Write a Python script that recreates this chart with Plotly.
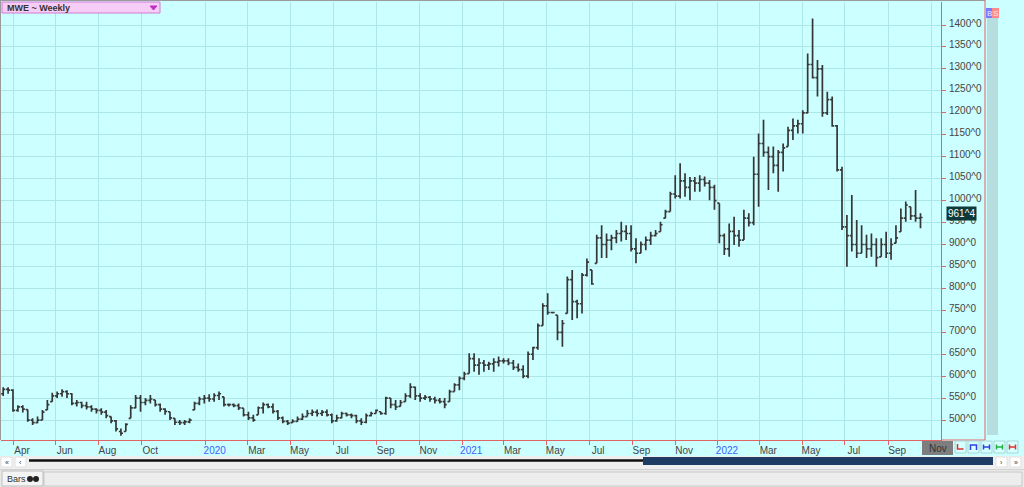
import plotly.graph_objects as go
import pandas as pd

# ---------------- data (weekly bars, MWE) ----------------
dates = pd.date_range("2019-03-18", periods=188, freq="7D")

opens = [
    560, 570, 568, 522, 530, 524, 500, 494, 500, 523,
    542, 555, 560, 565, 560, 538, 540, 533, 530, 525,
    522, 518, 508, 498, 474, 474, 504, 528, 550, 540,
    545, 546, 535, 525, 519, 504, 495, 494, 496, 523,
    538, 548, 550, 548, 556, 553, 535, 535, 533, 527,
    512, 505, 512, 528, 535, 530, 520, 505, 497, 494,
    497, 502, 508, 515, 518, 515, 518, 512, 498, 505,
    515, 512, 510, 498, 495, 510, 515, 519, 515, 550,
    535, 531, 542, 555, 575, 555, 550, 552, 548, 545,
    542, 542, 565, 580, 595, 606, 640, 625, 630, 625,
    628, 632, 635, 635, 630, 620, 615, 600, 650, 665,
    715, 760, 745, 739, 700, 743, 820, 770, 765, 830,
    842, 857, 915, 900, 910, 915, 925, 930, 925, 890,
    880, 900, 910, 920, 929, 960, 975, 1015, 1010, 1045,
    1030, 1045, 1040, 1048, 1040, 1030, 994, 920, 890, 930,
    920, 910, 960, 950, 1060, 1130, 1110, 1100, 1080, 1110,
    1123, 1160, 1170, 1175, 1200, 1310, 1280, 1300, 1200, 1230,
    1170, 1070, 940, 920, 900, 880, 900, 890, 900, 872,
    900, 880, 903, 929, 960, 986, 965, 960,
]
highs = [
    575, 575, 570, 534, 534, 524, 504, 508, 523, 546,
    562, 565, 570, 568, 561, 546, 542, 542, 534, 527,
    527, 523, 508, 500, 481, 493, 534, 557, 557, 550,
    557, 546, 538, 527, 519, 504, 500, 500, 504, 542,
    553, 557, 559, 561, 565, 553, 538, 538, 538, 527,
    519, 512, 531, 540, 538, 538, 523, 508, 500, 502,
    508, 515, 523, 524, 524, 523, 524, 515, 512, 519,
    517, 515, 512, 504, 515, 519, 524, 519, 553, 550,
    546, 546, 561, 584, 576, 561, 557, 555, 553, 550,
    550, 569, 584, 599, 610, 652, 652, 641, 637, 633,
    641, 645, 641, 641, 637, 629, 625, 656, 667, 720,
    766, 789, 747, 739, 728, 827, 842, 774, 835, 868,
    842, 922, 944, 925, 922, 933, 952, 944, 944, 914,
    907, 918, 929, 933, 952, 979, 1020, 1058, 1085, 1062,
    1054, 1054, 1058, 1055, 1047, 1036, 994, 925, 948, 963,
    933, 979, 971, 1100, 1153, 1184, 1123, 1123, 1115, 1130,
    1168, 1187, 1184, 1206, 1335, 1415, 1320, 1309, 1248, 1237,
    1172, 1077, 967, 1013, 956, 944, 922, 925, 914, 914,
    929, 914, 944, 982, 998, 986, 1024, 971,
]
lows = [
    555, 560, 519, 519, 517, 496, 489, 493, 500, 523,
    542, 550, 553, 550, 534, 531, 527, 524, 519, 515,
    512, 504, 493, 474, 464, 474, 504, 527, 519, 534,
    538, 531, 519, 512, 500, 489, 489, 489, 493, 523,
    534, 538, 542, 542, 546, 531, 531, 529, 523, 508,
    500, 496, 512, 515, 527, 515, 500, 493, 489, 494,
    496, 500, 508, 509, 508, 509, 508, 493, 496, 504,
    508, 504, 493, 489, 493, 508, 515, 512, 512, 527,
    523, 531, 542, 550, 546, 542, 546, 542, 538, 538,
    527, 542, 565, 568, 591, 606, 610, 603, 610, 614,
    610, 622, 629, 625, 614, 610, 595, 595, 637, 660,
    715, 740, 743, 682, 667, 743, 728, 732, 743, 827,
    808, 857, 869, 869, 887, 903, 907, 910, 884, 857,
    880, 887, 899, 918, 929, 960, 975, 1005, 1005, 1009,
    1001, 1020, 1020, 1032, 1001, 979, 903, 876, 872, 899,
    895, 910, 941, 944, 986, 1100, 1024, 1062, 1020, 1066,
    1123, 1138, 1153, 1153, 1199, 1278, 1237, 1191, 1195, 1168,
    1066, 933, 849, 884, 869, 880, 869, 872, 849, 872,
    869, 865, 903, 929, 952, 956, 952, 937,
]
closes = [
    570, 568, 522, 530, 525, 500, 494, 500, 518, 535,
    555, 560, 565, 560, 538, 540, 533, 530, 525, 522,
    518, 510, 498, 480, 470, 490, 528, 550, 540, 545,
    548, 535, 525, 520, 505, 495, 494, 496, 500, 538,
    548, 550, 548, 556, 560, 535, 535, 533, 528, 512,
    505, 500, 528, 535, 530, 520, 505, 497, 493, 497,
    502, 508, 515, 518, 515, 518, 512, 498, 505, 515,
    512, 510, 498, 495, 510, 515, 522, 515, 550, 535,
    530, 540, 555, 575, 555, 550, 552, 548, 545, 542,
    535, 565, 580, 595, 605, 640, 625, 630, 625, 628,
    632, 635, 635, 630, 620, 615, 600, 650, 665, 715,
    760, 745, 745, 700, 720, 820, 770, 765, 830, 860,
    810, 915, 900, 910, 915, 925, 930, 925, 890, 880,
    900, 910, 920, 925, 945, 975, 1015, 1010, 1045, 1030,
    1045, 1040, 1048, 1040, 1030, 1000, 920, 890, 930, 920,
    910, 960, 950, 1060, 1130, 1110, 1100, 1080, 1110, 1120,
    1160, 1170, 1175, 1200, 1310, 1280, 1300, 1200, 1230, 1170,
    1070, 940, 920, 900, 880, 900, 890, 900, 870, 900,
    880, 900, 915, 960, 990, 965, 960, 961.5,
]

month_ticks = [
    "2019-04-01", "2019-06-01", "2019-08-01", "2019-10-01",
    "2020-01-01", "2020-03-01", "2020-05-01", "2020-07-01", "2020-09-01", "2020-11-01",
    "2021-01-01", "2021-03-01", "2021-05-01", "2021-07-01", "2021-09-01", "2021-11-01",
    "2022-01-01", "2022-03-01", "2022-05-01", "2022-07-01", "2022-09-01", "2022-11-01",
]
month_labels = [
    "Apr", "Jun", "Aug", "Oct",
    "2020", "Mar", "May", "Jul", "Sep", "Nov",
    "2021", "Mar", "May", "Jul", "Sep", "Nov",
    "2022", "Mar", "May", "Jul", "Sep", "",
]
year_labels = ["2020", "2021", "2022"]
price_ticks = list(range(500, 1401, 50))
price_labels = [f"{v}^0" for v in price_ticks]
last_label = "961^4"
title_text = "MWE ~ Weekly"

# ---------------- styling helpers ----------------
W, H = 1024, 487
L, R, T, B = 1, 83, 2, 47
PW, PH = W - L - R, H - T - B
RED = "#E06464"
CYAN = "#CCFFFF"
GRID = "#ACE6E6"
FONT = "Liberation Sans, Arial, sans-serif"


def px(x):
    return (x - L) / PW


def py(y):
    return (H - B - y) / PH


ticktext = [
    f'<span style="color:#4060FF">{t}</span>' if t in year_labels else t
    for t in month_labels
]

bar_line = dict(color="#363636", width=1.7)
fig = go.Figure(
    go.Ohlc(
        x=dates, open=opens, high=highs, low=lows, close=closes,
        increasing=dict(line=bar_line), decreasing=dict(line=bar_line),
        tickwidth=0.42, showlegend=False, hoverinfo="skip",
    )
)

shapes = []


def rect(x0, y0, x1, y1, fill, line=None, lw=1):
    shapes.append(dict(type="rect", xref="paper", yref="paper",
                       x0=px(x0), x1=px(x1), y0=py(y1), y1=py(y0),
                       fillcolor=fill, line=dict(color=line or fill, width=lw if line else 0),
                       layer="above"))


def seg(x0, y0, x1, y1, color, w=1):
    shapes.append(dict(type="line", xref="paper", yref="paper",
                       x0=px(x0), x1=px(x1), y0=py(y0), y1=py(y1),
                       line=dict(color=color, width=w), layer="above"))


def path(pts, color, fill=None, w=1):
    d = "M " + " L ".join(f"{px(a)},{py(b)}" for a, b in pts)
    if fill:
        d += " Z"
    shapes.append(dict(type="path", xref="paper", yref="paper", path=d,
                       line=dict(color=color, width=w),
                       fillcolor=fill if fill else "rgba(0,0,0,0)", layer="above"))


# borders
seg(0.5, 0, 0.5, 440, "#9A9A9A", 1)
seg(0, 0.5, 985, 0.5, "#9A9A9A", 1)
seg(941, 440, 985, 440, RED, 1)
seg(985, 0, 985, 440, RED, 1)

# right gray strip + B / S buttons
rect(987, 18, 998, 435, "#B6DEDE")
rect(986, 8, 992, 18, "#7A7AFF")
rect(992, 8, 999, 18, "#FF8A8A")

# title box
rect(2, 2, 160, 13, "#F6CDF6", "#D27AD2", 1)
path([(150, 6), (157, 6), (153.5, 10)], "#C030C0", fill="#C030C0")

# Nov highlight box
rect(922, 441, 953, 455, "#7E7E7E")

# right small buttons
btn_x = [955, 968, 981, 994, 1007]
btn_c = ["#E03030", "#3040E0", "#3040E0", "#20B040", "#E03030"]
for bx, bc in zip(btn_x, btn_c):
    rect(bx, 441, bx + 11, 453, "#D6FFFF", "#A6D6D6", 1)
for i, (bx, bc) in enumerate(zip(btn_x, btn_c)):
    cx = bx + 5.5
    if i == 0:
        path([(cx - 3, 444), (cx - 3, 449), (cx + 3, 449)], bc, w=1.5)
    elif i == 1:
        path([(cx - 3, 450), (cx - 3, 445), (cx + 3, 445), (cx + 3, 450)], bc, w=1.5)
    else:
        seg(cx - 3, 447, cx + 3, 447, bc, 1.5)
        seg(cx - 3, 444.5, cx - 3, 449.5, bc, 1.5)
        seg(cx + 3, 444.5, cx + 3, 449.5, bc, 1.5)

# bottom scroll area
rect(0, 456, 1024, 469, "#EFEFEF")
rect(0, 469, 1024, 487, "#E9E9E9")
seg(0, 469.5, 1024, 469.5, "#D0D0D0", 1)
rect(1, 457, 12, 467, "#FFFFFF", "#E0E0E0", 1)
rect(15, 457, 26, 467, "#FFFFFF", "#E0E0E0", 1)
seg(29, 460.5, 645, 460.5, "#111111", 2.5)
rect(643, 457, 993, 465, "#1E3C64")
rect(996, 457, 1007, 467, "#FFFFFF", "#E0E0E0", 1)
rect(1010, 457, 1021, 467, "#FFFFFF", "#E0E0E0", 1)
# tab row
rect(44, 472, 1022, 486, "#EDEDED", "#C8C8C8", 1)
rect(2, 471, 43, 486, "#F4F4F4", "#BDBDBD", 1)
for cx in (30, 36):
    shapes.append(dict(type="circle", xref="paper", yref="paper",
                       x0=px(cx - 3), x1=px(cx + 3), y0=py(482), y1=py(476),
                       fillcolor="#222222", line=dict(width=0), layer="above"))


def glyph(x, y, t):
    return dict(xref="paper", yref="paper", x=px(x), y=py(y), text=t,
                showarrow=False, xanchor="center", yanchor="middle",
                font=dict(family=FONT, size=7, color="#333333"))


annotations = [
    dict(xref="paper", yref="paper", x=px(5), y=py(7.5), text=f"<b>{title_text}</b>",
         showarrow=False, xanchor="left", yanchor="middle",
         font=dict(family=FONT, size=9, color="#333333")),
    dict(xref="paper", yref="y", x=px(946), y=970, text=last_label,
         showarrow=False, xanchor="left", yanchor="middle", bgcolor="#0C3A3A",
         borderpad=1, font=dict(family=FONT, size=10, color="#FFFFFF")),
    dict(xref="paper", yref="paper", x=px(937.5), y=py(448), text="Nov",
         showarrow=False, xanchor="center", yanchor="middle",
         font=dict(family=FONT, size=10, color="#333333")),
    dict(xref="paper", yref="paper", x=px(989), y=py(13), text="B",
         showarrow=False, xanchor="center", yanchor="middle",
         font=dict(family=FONT, size=8, color="#E8E8FF")),
    dict(xref="paper", yref="paper", x=px(995.5), y=py(13), text="S",
         showarrow=False, xanchor="center", yanchor="middle",
         font=dict(family=FONT, size=8, color="#FFE8E8")),
    glyph(6.5, 462, "«"),
    glyph(20.5, 462, "‹"),
    glyph(1001.5, 462, "›"),
    glyph(1015.5, 462, "»"),
    dict(xref="paper", yref="paper", x=px(5), y=py(478.5), text="Bars",
         showarrow=False, xanchor="left", yanchor="middle",
         font=dict(family=FONT, size=9, color="#333333")),
]

fig.update_layout(
    width=W, height=H, autosize=False,
    margin=dict(l=L, r=R, t=T, b=B, pad=0),
    paper_bgcolor=CYAN, plot_bgcolor=CYAN,
    showlegend=False, hovermode=False,
    shapes=shapes, annotations=annotations,
    xaxis=dict(
        type="date", range=["2019-03-14 21:00", "2022-11-15 06:30"],
        tickmode="array", tickvals=month_ticks, ticktext=ticktext,
        showgrid=True, gridcolor=GRID, gridwidth=1,
        ticks="outside", ticklen=4, tickcolor=RED, tickwidth=1,
        showline=True, linecolor=RED, linewidth=1, zeroline=False,
        tickfont=dict(family=FONT, size=10, color="#444444"),
        ticklabelshift=9, ticklabelstandoff=-3,
        rangeslider=dict(visible=False), fixedrange=True,
    ),
    yaxis=dict(
        side="right", range=[454.6, 1452.4],
        tickmode="array", tickvals=price_ticks, ticktext=price_labels,
        showgrid=True, gridcolor=GRID, gridwidth=1,
        ticks="outside", ticklen=4, tickcolor=RED, tickwidth=1,
        showline=True, linecolor=RED, linewidth=1, zeroline=False,
        tickfont=dict(family=FONT, size=10, color="#444444"),
        ticklabelstandoff=1, ticklabelshift=-2, fixedrange=True,
    ),
)

fig.write_html(
    "out.html",
    config=dict(displayModeBar=False, staticPlot=True),
    post_script="document.body.style.margin='0';document.body.style.overflow='hidden';",
)
